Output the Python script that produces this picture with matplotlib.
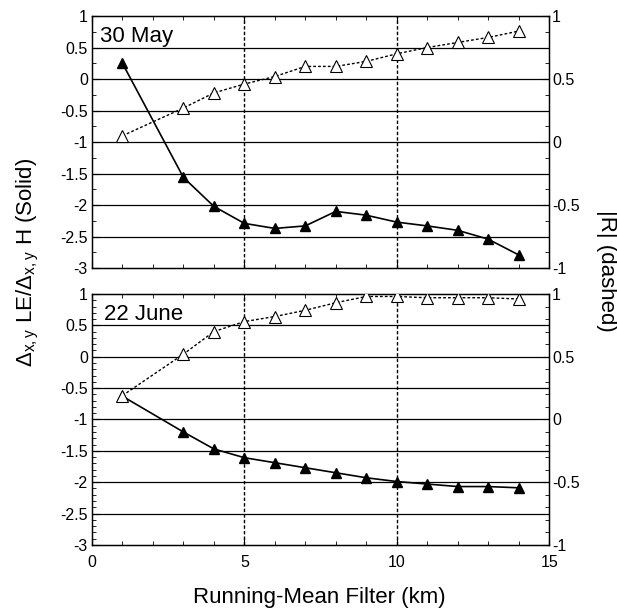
import matplotlib
matplotlib.use("Agg")
import matplotlib.pyplot as plt
from matplotlib.ticker import MultipleLocator, FuncFormatter

plt.rcParams['font.family'] = ['Liberation Sans', 'DejaVu Sans']
plt.rcParams['mathtext.fontset'] = 'custom'
plt.rcParams['mathtext.rm'] = 'Liberation Sans'
plt.rcParams['mathtext.it'] = 'Liberation Sans'

# ---- data ----
x = [1, 3, 4, 5, 6, 7, 8, 9, 10, 11, 12, 13, 14]
may_ratio = [0.25, -1.56, -2.02, -2.29, -2.37, -2.33, -2.10, -2.16, -2.27, -2.33, -2.40, -2.54, -2.79]
may_r = [0.05, 0.27, 0.39, 0.46, 0.52, 0.60, 0.60, 0.64, 0.70, 0.75, 0.79, 0.83, 0.88]
june_ratio = [-0.63, -1.20, -1.47, -1.61, -1.69, -1.77, -1.85, -1.93, -1.99, -2.03, -2.07, -2.07, -2.09]
june_r = [0.19, 0.52, 0.70, 0.78, 0.82, 0.87, 0.93, 0.98, 0.98, 0.97, 0.97, 0.97, 0.96]
panel_labels = ["30 May", "22 June"]
hlines = [0.5, 0, -0.5, -1, -1.5, -2, -2.5]
vlines = [5, 10]

fig = plt.figure(figsize=(6.17, 6.15), dpi=100)
L, R = 0.149, 0.890
ax1 = fig.add_axes([L, 0.564, R - L, 0.974 - 0.564])
ax2 = fig.add_axes([L, 0.114, R - L, 0.522 - 0.114])

fmt = FuncFormatter(lambda v, p: "%g" % v)
TS = 11.5

for ax, ratio, rr, lab, minor, lx in [(ax1, may_ratio, may_r, panel_labels[0], 0.25, 0.27),
                                       (ax2, june_ratio, june_r, panel_labels[1], 0.1, 0.38)]:
    ax.set_xlim(0, 15)
    ax.set_ylim(-3, 1)
    for h in hlines:
        ax.axhline(h, color='black', lw=0.9, zorder=1)
    for v in vlines:
        ax.axvline(v, color='black', lw=1.0, ls=(0, (2.5, 1.5)), zorder=1)
    ax.plot(x, ratio, color='black', lw=1.2, marker='^', ms=7,
            markerfacecolor='black', markeredgecolor='black', zorder=3)
    ax.xaxis.set_major_locator(MultipleLocator(5))
    ax.xaxis.set_minor_locator(MultipleLocator(1))
    ax.yaxis.set_major_locator(MultipleLocator(0.5))
    ax.yaxis.set_minor_locator(MultipleLocator(minor))
    ax.yaxis.set_major_formatter(fmt)
    ax.tick_params(which='both', direction='in', top=True, labelsize=TS)
    ax.tick_params(axis='y', pad=3)
    ax.tick_params(axis='x', pad=7)
    ax.tick_params(which='major', length=5)
    ax.tick_params(which='minor', length=3)
    ax.text(lx, 0.58, lab, fontsize=16, va='baseline', ha='left', zorder=5)
    for s in ax.spines.values():
        s.set_linewidth(1.0)

    axr = ax.twinx()
    axr.set_ylim(-1, 1)
    axr.plot(x, rr, color='black', lw=1.0, ls=(0, (2, 1.5)), marker='^', ms=8,
             markerfacecolor='white', markeredgecolor='black', markeredgewidth=0.8, zorder=4)
    axr.yaxis.set_major_locator(MultipleLocator(0.5))
    axr.yaxis.set_minor_locator(MultipleLocator(0.1 if minor == 0.1 else 0.125))
    axr.yaxis.set_major_formatter(fmt)
    axr.tick_params(which='both', direction='in', labelsize=TS, pad=2)
    axr.tick_params(which='major', length=5)
    axr.tick_params(which='minor', length=3)

ax1.tick_params(axis='x', labelbottom=False)
ax2.xaxis.set_major_formatter(fmt)

fig.text(0.045, 0.574, r'$\Delta_{\rm x,y}$ LE/$\Delta_{\rm x,y}$ H (Solid)',
         rotation=90, ha='center', va='center', fontsize=16)
fig.text(0.983, 0.56, '|R| (dashed)', rotation=270, ha='center', va='center', fontsize=16)
fig.text(0.517, 0.028, 'Running-Mean Filter (km)', ha='center', va='center', fontsize=16)

fig.savefig('out.png', dpi=100)
